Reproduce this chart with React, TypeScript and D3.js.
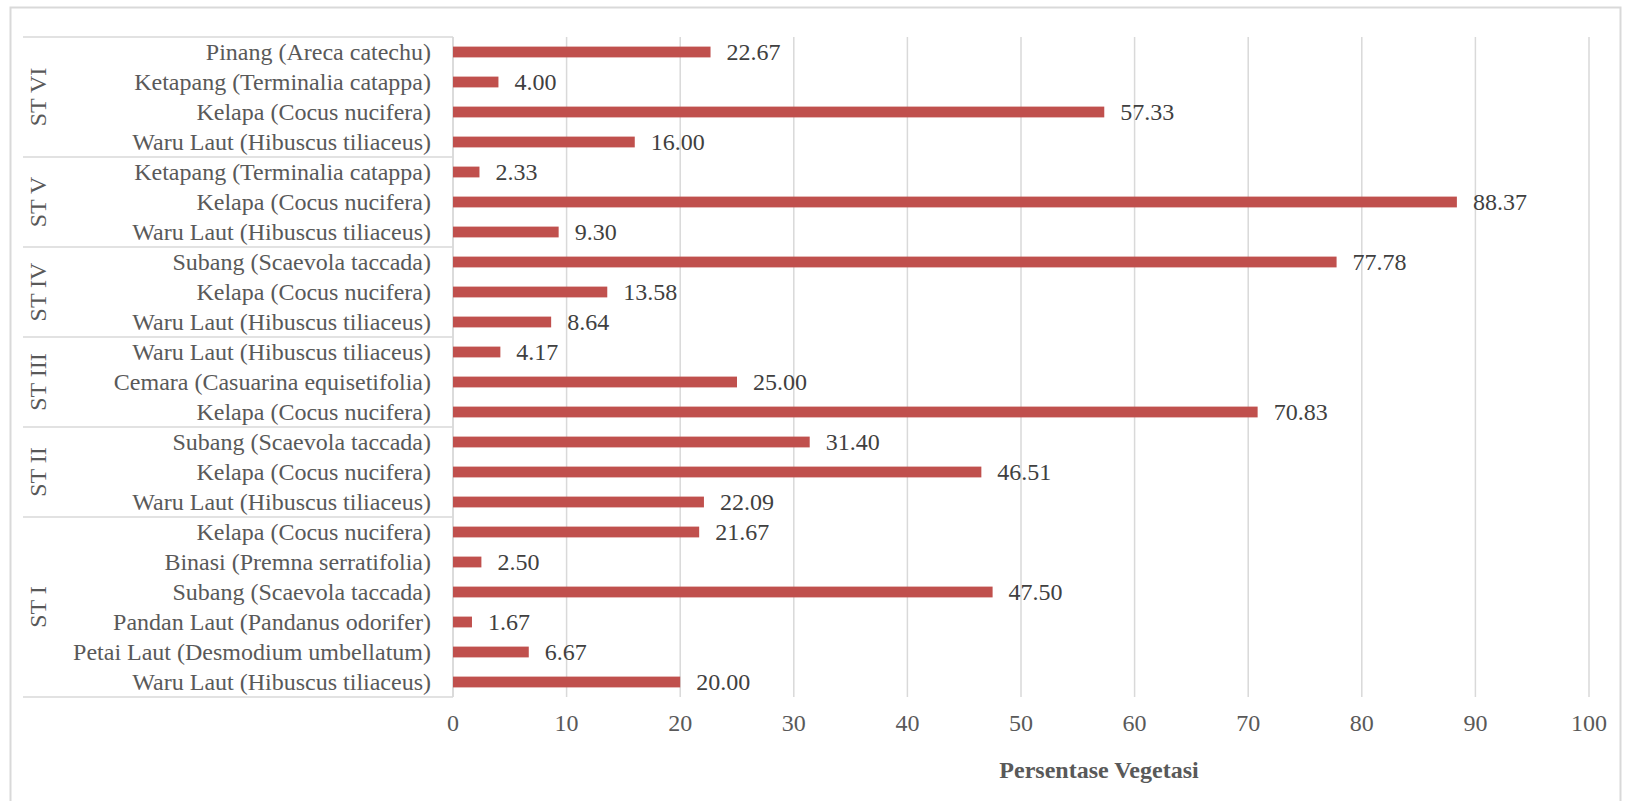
import React from "react";
import * as d3 from "d3";

// Data, listed top to bottom as drawn
const stations = ["ST VI", "ST V", "ST IV", "ST III", "ST II", "ST I"];
const stationSizes = [4, 3, 3, 3, 3, 6];
const species = [
  "Pinang (Areca catechu)",
  "Ketapang (Terminalia catappa)",
  "Kelapa (Cocus nucifera)",
  "Waru Laut (Hibuscus tiliaceus)",
  "Ketapang (Terminalia catappa)",
  "Kelapa (Cocus nucifera)",
  "Waru Laut (Hibuscus tiliaceus)",
  "Subang (Scaevola taccada)",
  "Kelapa (Cocus nucifera)",
  "Waru Laut (Hibuscus tiliaceus)",
  "Waru Laut (Hibuscus tiliaceus)",
  "Cemara (Casuarina equisetifolia)",
  "Kelapa (Cocus nucifera)",
  "Subang (Scaevola taccada)",
  "Kelapa (Cocus nucifera)",
  "Waru Laut (Hibuscus tiliaceus)",
  "Kelapa (Cocus nucifera)",
  "Binasi (Premna serratifolia)",
  "Subang (Scaevola taccada)",
  "Pandan Laut (Pandanus odorifer)",
  "Petai Laut (Desmodium umbellatum)",
  "Waru Laut (Hibuscus tiliaceus)",
];
const values = [
  22.67, 4.0, 57.33, 16.0,
  2.33, 88.37, 9.3,
  77.78, 13.58, 8.64,
  4.17, 25.0, 70.83,
  31.4, 46.51, 22.09,
  21.67, 2.5, 47.5, 1.67, 6.67, 20.0,
];
const xTicks = [0, 10, 20, 30, 40, 50, 60, 70, 80, 90, 100];
const xTitle = "Persentase Vegetasi";

const W = 1625;
const H = 801;
const left = 453;
const right = 1589;
const top = 37;
const bottom = 697;
const FONT = "'Liberation Serif', 'Times New Roman', Times, serif";
const GRID = "#d9d9d9";

export default function App() {
  const x = d3.scaleLinear().domain([0, 100]).range([left, right]);
  const y = d3
    .scaleBand<number>()
    .domain(d3.range(values.length))
    .range([top, bottom])
    .paddingInner(0.64)
    .paddingOuter(0.32);
  const step = y.step();

  const starts: number[] = [];
  let acc = 0;
  stationSizes.forEach((n) => {
    starts.push(acc);
    acc += n;
  });

  return (
    <svg
      width={W}
      height={H}
      style={{ position: "absolute", left: 0, top: 0, background: "#fff", fontFamily: FONT }}
    >
      <rect x={10.5} y={7.5} width={1610} height={820} fill="#fff" stroke={GRID} strokeWidth={2} />
      {xTicks.map((t) => (
        <line key={"g" + t} x1={x(t)} x2={x(t)} y1={top} y2={bottom} stroke={GRID} strokeWidth={1.5} />
      ))}
      {starts.concat([values.length]).map((s, i) => (
        <line
          key={"h" + i}
          x1={23}
          x2={left}
          y1={top + s * step}
          y2={top + s * step}
          stroke={GRID}
          strokeWidth={1.5}
        />
      ))}
      <line x1={left} x2={left} y1={top} y2={bottom} stroke={GRID} strokeWidth={1.5} />
      {values.map((v, i) => (
        <rect key={"b" + i} x={x(0)} y={y(i)!} width={x(v) - x(0)} height={y.bandwidth()} fill="#C0504D" />
      ))}
      {values.map((v, i) => (
        <text
          key={"v" + i}
          x={x(v) + 16}
          y={y(i)! + y.bandwidth() / 2}
          dy="0.35em"
          fontSize={24}
          fill="#404040"
        >
          {v.toFixed(2)}
        </text>
      ))}
      {species.map((s, i) => (
        <text
          key={"c" + i}
          x={431}
          y={y(i)! + y.bandwidth() / 2}
          dy="0.35em"
          textAnchor="end"
          fontSize={24}
          fill="#595959"
        >
          {s}
        </text>
      ))}
      {stations.map((st, i) => {
        const cy = top + (starts[i] + stationSizes[i] / 2) * step;
        return (
          <text
            key={"s" + i}
            transform={`translate(38,${cy}) rotate(-90)`}
            textAnchor="middle"
            dy="0.35em"
            fontSize={24}
            fill="#595959"
          >
            {st}
          </text>
        );
      })}
      {xTicks.map((t) => (
        <text key={"t" + t} x={x(t)} y={731} textAnchor="middle" fontSize={24} fill="#595959">
          {t}
        </text>
      ))}
      <text x={1099} y={778} textAnchor="middle" fontSize={24} fontWeight="bold" fill="#595959">
        {xTitle}
      </text>
    </svg>
  );
}
